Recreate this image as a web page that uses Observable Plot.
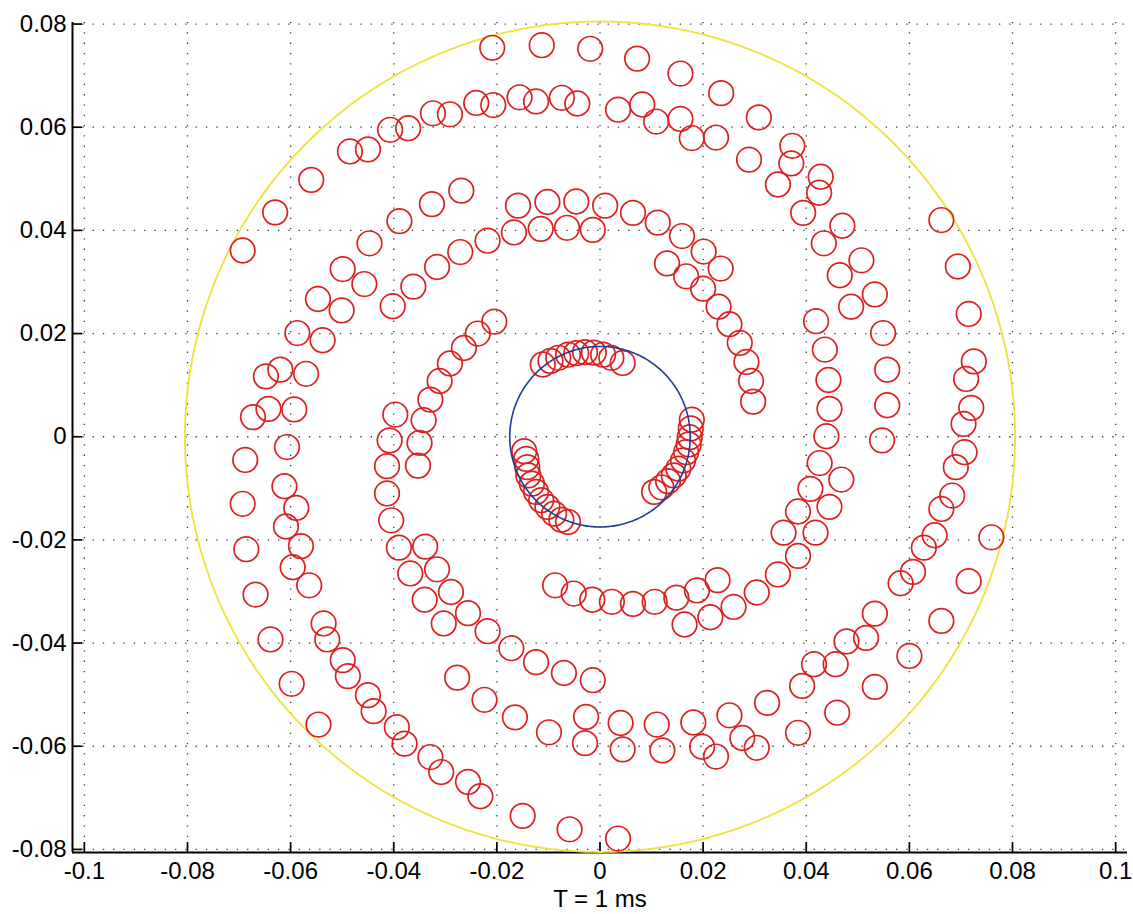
<!DOCTYPE html>
<html>
<head>
<meta charset="utf-8">
<script src="https://cdn.jsdelivr.net/npm/d3@7"></script>
<script src="https://cdn.jsdelivr.net/npm/@observablehq/plot@0.6"></script>
<style>
  html, body { margin: 0; padding: 0; background: #fff; }
  #chart svg { display: block; }
</style>
</head>
<body>
<div id="chart"></div>
<script>
// ---- axis limits and ticks ----
const xLim = [-0.1023, 0.1023];
const yLim = [-0.0806, 0.0803];
const xTicks = [-0.1, -0.08, -0.06, -0.04, -0.02, 0, 0.02, 0.04, 0.06, 0.08, 0.1];
const yTicks = [-0.08, -0.06, -0.04, -0.02, 0, 0.02, 0.04, 0.06, 0.08];
const xLabel = "T = 1 ms";

// ---- reference circles (radius, centred on origin) ----
const outerRadius = 0.0805;
const innerRadius = 0.0175;

// ---- red circle markers (x, y) ----
const ptX = [
  -0.0693,-0.0630,-0.0560,-0.0485,-0.0450,-0.0407,-0.0372,-0.0324,-0.0291,-0.0240,
  -0.0207,-0.0156,-0.0124,-0.0074,-0.0044,0.0035,0.0082,0.0109,0.0156,0.0178,
  0.0225,-0.0209,-0.0113,-0.0019,0.0072,0.0156,0.0235,0.0308,0.0373,0.0371,
  0.0289,0.0345,0.0428,0.0425,0.0394,0.0470,0.0434,0.0507,0.0465,0.0533,
  0.0487,0.0662,0.0694,-0.0326,-0.0389,-0.0447,-0.0499,-0.0457,-0.0547,-0.0362,
  -0.0316,-0.0269,-0.0271,-0.0402,-0.0501,-0.0159,-0.0102,-0.0046,0.0010,0.0064,
  0.0112,0.0159,0.0201,0.0234,0.0130,0.0167,0.0200,-0.0167,-0.0115,-0.0064,
  -0.0014,-0.0218,0.0230,0.0251,0.0271,0.0284,0.0293,0.0297,0.0419,0.0436,
  0.0443,0.0445,0.0439,0.0426,0.0468,0.0408,0.0445,0.0384,0.0418,0.0356,
  0.0384,0.0345,0.0549,0.0557,0.0557,0.0547,0.0715,0.0725,0.0710,0.0720,
  0.0705,0.0707,0.0690,0.0683,0.0662,0.0649,0.0628,0.0607,0.0759,-0.0587,
  -0.0538,-0.0648,-0.0620,-0.0570,-0.0673,-0.0643,-0.0593,-0.0688,-0.0607,-0.0693,
  -0.0612,-0.0589,-0.0609,-0.0686,-0.0580,-0.0596,-0.0397,-0.0408,-0.0413,-0.0413,
  -0.0405,-0.0390,-0.0339,-0.0368,-0.0316,-0.0342,-0.0350,-0.0353,-0.0329,-0.0311,
  -0.0291,-0.0264,-0.0237,-0.0205,-0.0111,-0.0096,-0.0081,-0.0062,-0.0046,-0.0029,
  -0.0012,0.0006,0.0022,0.0044,0.0178,0.0176,0.0174,0.0172,0.0167,0.0161,
  0.0152,0.0143,0.0132,0.0119,0.0105,-0.0147,-0.0143,-0.0141,-0.0139,-0.0132,
  -0.0124,-0.0114,-0.0102,-0.0089,-0.0075,-0.0062,-0.0564,-0.0668,-0.0639,-0.0598,
  -0.0546,-0.0536,-0.0529,-0.0499,-0.0489,-0.0450,-0.0439,-0.0394,-0.0379,-0.0329,
  -0.0308,-0.0256,-0.0232,-0.0340,-0.0289,-0.0303,-0.0256,-0.0277,-0.0218,-0.0172,
  -0.0124,-0.0070,-0.0014,-0.0224,-0.0165,-0.0099,-0.0027,-0.0029,0.0040,0.0044,
  0.0110,0.0121,0.0181,0.0198,0.0225,0.0251,-0.0150,-0.0059,0.0035,-0.0087,
  -0.0051,-0.0015,0.0023,0.0064,0.0106,0.0148,0.0188,0.0228,0.0164,0.0214,
  0.0259,0.0304,0.0583,0.0715,0.0533,0.0662,0.0478,0.0516,0.0600,0.0415,
  0.0457,0.0392,0.0533,0.0324,0.0460,0.0384,0.0276,0.0304
];
const ptY = [
  0.0361,0.0435,0.0498,0.0553,0.0557,0.0595,0.0598,0.0627,0.0625,0.0647,
  0.0643,0.0658,0.0650,0.0657,0.0646,0.0634,0.0644,0.0611,0.0616,0.0579,
  0.0580,0.0754,0.0759,0.0752,0.0733,0.0704,0.0666,0.0619,0.0564,0.0530,
  0.0537,0.0489,0.0504,0.0473,0.0434,0.0409,0.0375,0.0342,0.0313,0.0276,
  0.0252,0.0420,0.0330,0.0451,0.0418,0.0375,0.0325,0.0296,0.0267,0.0291,
  0.0329,0.0477,0.0358,0.0253,0.0245,0.0448,0.0455,0.0456,0.0448,0.0434,
  0.0415,0.0389,0.0359,0.0326,0.0336,0.0311,0.0287,0.0396,0.0403,0.0405,
  0.0401,0.0380,0.0252,0.0218,0.0182,0.0145,0.0108,0.0068,0.0224,0.0169,
  0.0110,0.0054,0.0001,-0.0051,-0.0083,-0.0101,-0.0136,-0.0145,-0.0186,-0.0186,
  -0.0231,-0.0267,0.0201,0.0130,0.0061,-0.0007,0.0238,0.0146,0.0112,0.0056,
  0.0025,-0.0030,-0.0059,-0.0114,-0.0140,-0.0191,-0.0215,-0.0262,-0.0195,0.0201,
  0.0187,0.0117,0.0130,0.0122,0.0038,0.0054,0.0053,-0.0045,-0.0020,-0.0130,
  -0.0096,-0.0138,-0.0174,-0.0218,-0.0212,-0.0253,0.0043,-0.0007,-0.0057,-0.0110,
  -0.0162,-0.0215,-0.0213,-0.0265,-0.0257,0.0032,-0.0012,-0.0056,0.0072,0.0108,
  0.0142,0.0172,0.0200,0.0223,0.0140,0.0147,0.0153,0.0159,0.0162,0.0164,
  0.0163,0.0159,0.0153,0.0143,0.0033,0.0016,-0.0001,-0.0015,-0.0030,-0.0046,
  -0.0062,-0.0075,-0.0086,-0.0098,-0.0107,-0.0028,-0.0043,-0.0059,-0.0075,-0.0091,
  -0.0107,-0.0123,-0.0136,-0.0149,-0.0161,-0.0165,-0.0288,-0.0306,-0.0393,-0.0479,
  -0.0558,-0.0362,-0.0393,-0.0433,-0.0464,-0.0501,-0.0532,-0.0563,-0.0595,-0.0621,
  -0.0650,-0.0669,-0.0697,-0.0316,-0.0301,-0.0362,-0.0342,-0.0467,-0.0377,-0.0410,
  -0.0437,-0.0458,-0.0472,-0.0510,-0.0544,-0.0573,-0.0543,-0.0594,-0.0555,-0.0606,
  -0.0558,-0.0608,-0.0554,-0.0601,-0.0620,-0.0540,-0.0735,-0.0761,-0.0779,-0.0288,
  -0.0304,-0.0316,-0.0320,-0.0324,-0.0320,-0.0312,-0.0298,-0.0278,-0.0364,-0.0350,
  -0.0330,-0.0302,-0.0284,-0.0280,-0.0343,-0.0357,-0.0397,-0.0390,-0.0425,-0.0441,
  -0.0441,-0.0483,-0.0485,-0.0516,-0.0535,-0.0574,-0.0584,-0.0603
];

const points = ptX.map((x, i) => ({x, y: ptY[i]}));
const ring = (r) => d3.range(0, 361, 1).map(a => ({
  x: r * Math.cos(a * Math.PI / 180),
  y: r * Math.sin(a * Math.PI / 180)
}));

const W = 1133, H = 914;
const mL = 72, mR = 6, mT = 22, mB = 62;
const plotW = W - mL - mR, plotH = H - mT - mB;
const fmt = d => String(+(+d).toFixed(2));
const dotted = {stroke: "#222", strokeOpacity: 0.9, strokeWidth: 1.3, strokeDasharray: "1.3,9"};

const chart = Plot.plot({
  width: W, height: H,
  marginLeft: mL, marginRight: mR, marginTop: mT, marginBottom: mB,
  style: {fontFamily: "'Liberation Sans', Arial, Helvetica, sans-serif", fontSize: "24px", background: "#fff", color: "#000"},
  x: {domain: xLim},
  y: {domain: yLim},
  marks: [
    Plot.gridX(xTicks, dotted),
    Plot.gridY(yTicks, dotted),
    Plot.axisX(xTicks, {tickSize: 0, tickPadding: 9, tickFormat: fmt, label: null, fontSize: 24}),
    Plot.axisY(yTicks, {tickSize: 0, tickPadding: 6, tickFormat: fmt, label: null, fontSize: 24}),
    Plot.ruleX(xTicks, {x: d => d, insetTop: plotH - 10, stroke: "#000", strokeWidth: 1.7}),
    Plot.ruleY(yTicks, {y: d => d, insetRight: plotW - 10, stroke: "#000", strokeWidth: 1.7}),
    Plot.ruleX([xLim[0]], {stroke: "#000", strokeWidth: 2}),
    Plot.ruleY([yLim[0]], {stroke: "#000", strokeWidth: 2}),
    Plot.line(ring(outerRadius), {x: "x", y: "y", stroke: "#f0e23a", strokeWidth: 1.8}),
    Plot.dot(points, {x: "x", y: "y", r: 12.3, stroke: "#dc2020", strokeWidth: 1.7, fill: "none"}),
    Plot.line(ring(innerRadius), {x: "x", y: "y", stroke: "#1f3d96", strokeWidth: 1.6}),
    Plot.text([xLabel], {frameAnchor: "bottom", dy: 54, fontSize: 24, fill: "#000"})
  ]
});
document.getElementById("chart").appendChild(chart);
</script>
</body>
</html>
